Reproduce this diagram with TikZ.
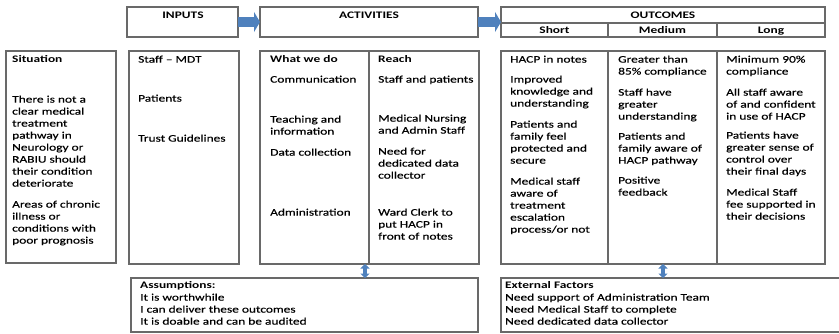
\documentclass[tikz,border=0pt]{standalone}
\usepackage{fontspec}
\setmainfont{Carlito}[FakeStretch=1.34, UprightFeatures={FakeBold=0.5}]
\usetikzlibrary{arrows.meta}
\definecolor{boxgray}{RGB}{105,105,105}
\definecolor{arrblue}{RGB}{79,129,189}
\begin{document}
\begin{tikzpicture}[x=1pt,y=-1pt,
  box/.style={draw=boxgray, line width=1.2pt, inner sep=0pt, outer sep=0pt, anchor=north west},
  sep/.style={draw=boxgray, line width=1.2pt},
  txt/.style={anchor=north west, inner sep=0pt, align=left, font=\fontsize{10}{12}\selectfont},
  btxt/.style={txt, font=\fontsize{10}{12}\selectfont\bfseries},
  hdr/.style={anchor=base, inner sep=0pt, font=\fontsize{10}{12}\selectfont\bfseries},
  blockarr/.style={draw=arrblue, line width=10pt, -{Triangle[length=6pt,width=20pt]}},
  dblarr/.style={draw=arrblue, line width=3.4pt, {Triangle[length=4.5pt,width=9pt]}-{Triangle[length=4.5pt,width=9pt]}}]
\useasboundingbox (0,0) rectangle (839,333);
\clip (0,0) rectangle (839,333);
% header boxes
\node[box, minimum width=111pt, minimum height=30pt] (inhead) at (127,7) {};
\node[box, minimum width=218pt, minimum height=30pt] (acthead) at (260,7) {};
\node[box, minimum width=324pt, minimum height=30pt] (outhead) at (501,7) {};
\draw[sep] (501,23) -- (825,23);
\draw[sep] (608,23) -- (608,37);
\draw[sep] (717,23) -- (717,37);
\node[hdr] (t1) at (183,18.5) {INPUTS};
\node[hdr] (t2) at (369,18.5) {ACTIVITIES};
\node[hdr] (t3) at (663,18.5) {OUTCOMES};
\node[hdr] (t4) at (554.5,33.5) {Short};
\node[hdr] (t5) at (662.5,33.5) {Medium};
\node[hdr] (t6) at (771,33.5) {Long};
% arrows between headers
\draw[blockarr] (inhead.east) -- (acthead.west);
\draw[blockarr] (acthead.east) -- (outhead.west);
% main boxes
\node[box, minimum width=110pt, minimum height=212pt] (sit) at (6,51) {};
\node[box, minimum width=110pt, minimum height=213pt] (inbox) at (129,51) {};
\node[box, minimum width=219pt, minimum height=213pt] (actbox) at (260,51) {};
\draw[sep] (369,51) -- (369,264);
\node[box, minimum width=324pt, minimum height=213pt] (outbox) at (501,51) {};
\draw[sep] (608,51) -- (608,264);
\draw[sep] (717,51) -- (717,264);
% bottom boxes
\node[box, minimum width=347pt, minimum height=54pt] (assume) at (131,278) {};
\node[box, minimum width=360pt, minimum height=54pt] (ext) at (501,278) {};
% vertical double arrows
\coordinate (da) at (365,0);
\coordinate (db) at (663,0);
\draw[dblarr] (actbox.south -| da) -- (assume.north -| da);
\draw[dblarr] (outbox.south -| db) -- (ext.north -| db);
% Situation
\node[btxt] (s1) at (12,54) {\strut Situation};
\node[txt] (s2) at (12,94) {\strut There is not a\\clear medical\\treatment\\pathway in\\Neurology or\\RABIU should\\their condition\\deteriorate};
\node[txt] (s3) at (12,199) {\strut Areas of chronic\\illness or\\conditions with\\poor prognosis};
% Inputs
\node[txt] (i1) at (138,54) {\strut Staff – MDT};
\node[txt] (i2) at (138,93) {\strut Patients};
\node[txt] (i3) at (138,133) {\strut Trust Guidelines};
% Activities
\node[btxt] (a1) at (270,54) {\strut What we do};
\node[txt] (a2) at (270,74) {\strut Communication};
\node[txt] (a3) at (270,114) {\strut Teaching and\\information};
\node[txt] (a4) at (270,147) {\strut Data collection};
\node[txt] (a5) at (270,207) {\strut Administration};
\node[btxt] (r1) at (378,54) {\strut Reach};
\node[txt] (r2) at (378,74) {\strut Staff and patients};
\node[txt] (r3) at (378,113) {\strut Medical Nursing\\and Admin Staff};
\node[txt] (r4) at (378,146) {\strut Need for\\dedicated data\\collector};
\node[txt] (r5) at (378,207) {\strut Ward Clerk to\\put HACP in\\front of notes};
% Outcomes short
\node[txt] (o1) at (510,54) {\strut HACP in notes};
\node[txt] (o2) at (510,74) {\strut Improved\\knowledge and\\understanding};
\node[txt] (o3) at (510,119) {\strut Patients and\\family feel\\protected and\\secure};
\node[txt] (o4) at (510,176) {\strut Medical staff\\aware of\\treatment\\escalation\\process/or not};
% Outcomes medium
\node[txt] (m1) at (618,54) {\strut Greater than\\85\% compliance};
\node[txt] (m2) at (618,87) {\strut Staff have\\greater\\understanding};
\node[txt] (m3) at (618,131) {\strut Patients and\\family aware of\\HACP pathway};
\node[txt] (m4) at (618,175) {\strut Positive\\feedback};
% Outcomes long
\node[txt] (l1) at (726,54) {\strut Minimum 90\%\\compliance};
\node[txt] (l2) at (726,87) {\strut All staff aware\\of and confident\\in use of HACP};
\node[txt] (l3) at (726,130) {\strut Patients have\\greater sense of\\control over\\their final days};
\node[txt] (l4) at (726,187) {\strut Medical Staff\\fee supported in\\their decisions};
% Assumptions
\node[txt] (as) at (140,280) {\strut\textbf{Assumptions:}\\It is worthwhile\\I can deliver these outcomes\\It is doable and can be audited};
% External factors
\node[txt] (ef) at (505,280) {\strut\textbf{External Factors}\\Need support of Administration Team\\Need Medical Staff to complete\\Need dedicated data collector};
\end{tikzpicture}
\end{document}
